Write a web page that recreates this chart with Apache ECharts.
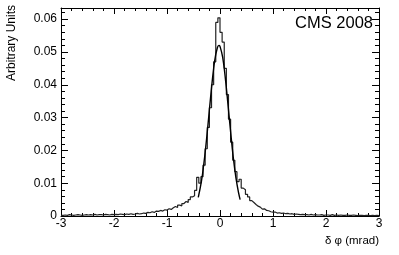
<!DOCTYPE html>
<html>
<head>
<meta charset="utf-8">
<script src="https://cdn.jsdelivr.net/npm/echarts@6/dist/echarts.min.js"></script>
<style>html,body{margin:0;padding:0;background:#fff}#c{width:399px;height:255px}</style>
</head>
<body>
<div id="c"></div>
<script>
// Histogram: bins of width 0.04 mrad starting at -3
var binStart = -3;
var binWidth = 0.04;
var histValues = [
  // -3.00 .. -1.04 (50 bins)
  0.0002,0.0003,0.0002,0.0004,0.0003,0.0002,0.0003,0.0004,0.0003,0.0002,
  0.0003,0.0004,0.0003,0.0004,0.0003,0.0005,0.0003,0.0004,0.0004,0.0003,
  0.0005,0.0004,0.0003,0.0005,0.0004,0.0005,0.0004,0.0006,0.0005,0.0004,
  0.0006,0.0005,0.0007,0.0005,0.0006,0.0008,0.0006,0.0007,0.0009,0.0008,
  0.0011,0.0010,0.0013,0.0011,0.0015,0.0014,0.0017,0.0015,0.0019,0.0018,
  // -1.00 .. -0.56 (12 bins)
  0.0022,0.0020,0.0025,0.0029,0.0026,0.0033,0.0031,0.0038,0.0044,0.0041,0.0050,0.0058,
  // -0.52 .. -0.04 (13 bins)
  0.0062,0.0078,0.0118,0.0100,0.0120,0.0155,0.0205,0.0270,0.0330,0.0400,0.0470,0.0590,0.0604,
  // 0.00 .. 0.40 (11 bins)
  0.0560,0.0530,0.0450,0.0370,0.0295,0.0225,0.0170,0.0135,0.0105,0.0112,0.0085,
  // 0.44 .. 1.48 (27 bins)
  0.0080,0.0066,0.0058,0.0047,0.0041,0.0035,0.0030,0.0027,0.0021,0.0022,
  0.0017,0.0016,0.0013,0.0012,0.0012,0.0009,0.0010,0.0008,0.0009,0.0007,
  0.0008,0.0006,0.0007,0.0005,0.0006,0.0005,0.0004,
  // 1.52 .. 2.96 (37 bins)
  0.0005,0.0004,0.0004,0.0003,0.0005,0.0003,0.0004,0.0003,0.0003,0.0004,
  0.0002,0.0003,0.0003,0.0002,0.0004,0.0002,0.0003,0.0002,0.0003,0.0002,
  0.0002,0.0003,0.0002,0.0002,0.0003,0.0002,0.0001,0.0002,0.0002,0.0001,
  0.0002,0.0002,0.0001,0.0002,0.0001,0.0002,0.0001
];
// Gaussian fit curve
var fitX = [-0.41,-0.35,-0.30,-0.25,-0.20,-0.15,-0.10,-0.05,-0.02,0.00,0.05,0.10,0.15,0.20,0.25,0.30,0.35,0.38];
var fitY = [0.0057,0.0106,0.0166,0.0240,0.0324,0.0406,0.0474,0.0513,0.0520,0.0517,0.0484,0.0421,0.0341,0.0257,0.0179,0.0117,0.0071,0.0050];
var xTicks = [-3,-2,-1,0,1,2,3];
var yTicks = [0,0.01,0.02,0.03,0.04,0.05,0.06];

var histData = histValues.map(function(v,i){ return [binStart + i*binWidth, v]; });
histData.push([binStart + histValues.length*binWidth, histValues[histValues.length-1]]);
var fitData = fitX.map(function(x,i){ return [x, fitY[i]]; });

var FONT = '"Liberation Sans", Arial, Helvetica, sans-serif';
var chart = echarts.init(document.getElementById('c'), null, {renderer:'canvas'});
function axisLine(){ return {show:true,onZero:false,lineStyle:{color:'#000',width:1}}; }
chart.setOption({
  animation:false,
  backgroundColor:'#fff',
  grid:{left:61,right:20,top:8,bottom:39,containLabel:false},
  xAxis:[
    {type:'value',min:xTicks[0],max:xTicks[xTicks.length-1],interval:1,position:'bottom',
      axisLine:axisLine(),splitLine:{show:false},
      axisTick:{show:true,inside:true,length:6,lineStyle:{color:'#000'}},
      minorTick:{show:true,splitNumber:5,length:3,lineStyle:{color:'#000'}},
      axisLabel:{color:'#000',fontFamily:FONT,fontSize:12,margin:2}},
    {type:'value',min:xTicks[0],max:xTicks[xTicks.length-1],interval:1,position:'top',
      axisLine:axisLine(),splitLine:{show:false},
      axisTick:{show:true,inside:true,length:6,lineStyle:{color:'#000'}},
      minorTick:{show:true,splitNumber:5,length:3,lineStyle:{color:'#000'}},
      axisLabel:{show:false}}
  ],
  yAxis:[
    {type:'value',min:yTicks[0],max:0.0634,interval:0.01,position:'left',
      axisLine:axisLine(),splitLine:{show:false},
      axisTick:{show:true,inside:true,length:7,lineStyle:{color:'#000'}},
      minorTick:{show:true,splitNumber:5,length:4,lineStyle:{color:'#000'}},
      axisLabel:{color:'#000',fontFamily:FONT,fontSize:12,margin:4,showMaxLabel:false,
        formatter:function(v){ var r=Math.round(v*100)/100; return yTicks.indexOf(r)>=0 && Math.abs(v-r)<1e-6 ? String(r) : ''; }}},
    {type:'value',min:yTicks[0],max:0.0634,interval:0.01,position:'right',
      axisLine:axisLine(),splitLine:{show:false},
      axisTick:{show:true,inside:true,length:7,lineStyle:{color:'#000'}},
      minorTick:{show:true,splitNumber:5,length:4,lineStyle:{color:'#000'}},
      axisLabel:{show:false}}
  ],
  series:[
    {type:'line',xAxisIndex:0,yAxisIndex:0,data:histData,step:'end',symbol:'none',
      lineStyle:{color:'#222',width:1.2},z:2},
    {type:'line',xAxisIndex:0,yAxisIndex:0,data:fitData,smooth:0.4,symbol:'none',
      lineStyle:{color:'#000',width:1.4},z:3}
  ],
  graphic:[
    {type:'text',x:373,y:23,style:{text:'CMS 2008',fill:'#000',font:'16.5px '+FONT,align:'right',verticalAlign:'middle'}},
    {type:'text',x:12,y:5,rotation:Math.PI/2,style:{text:'Arbitrary Units',fill:'#000',font:'12px '+FONT,align:'right',verticalAlign:'middle'}},
    {type:'text',x:379,y:241,style:{text:'\u03b4 \u03c6 (mrad)',fill:'#000',font:'11.5px '+FONT,align:'right',verticalAlign:'middle'}}
  ]
});
</script>
</body>
</html>
